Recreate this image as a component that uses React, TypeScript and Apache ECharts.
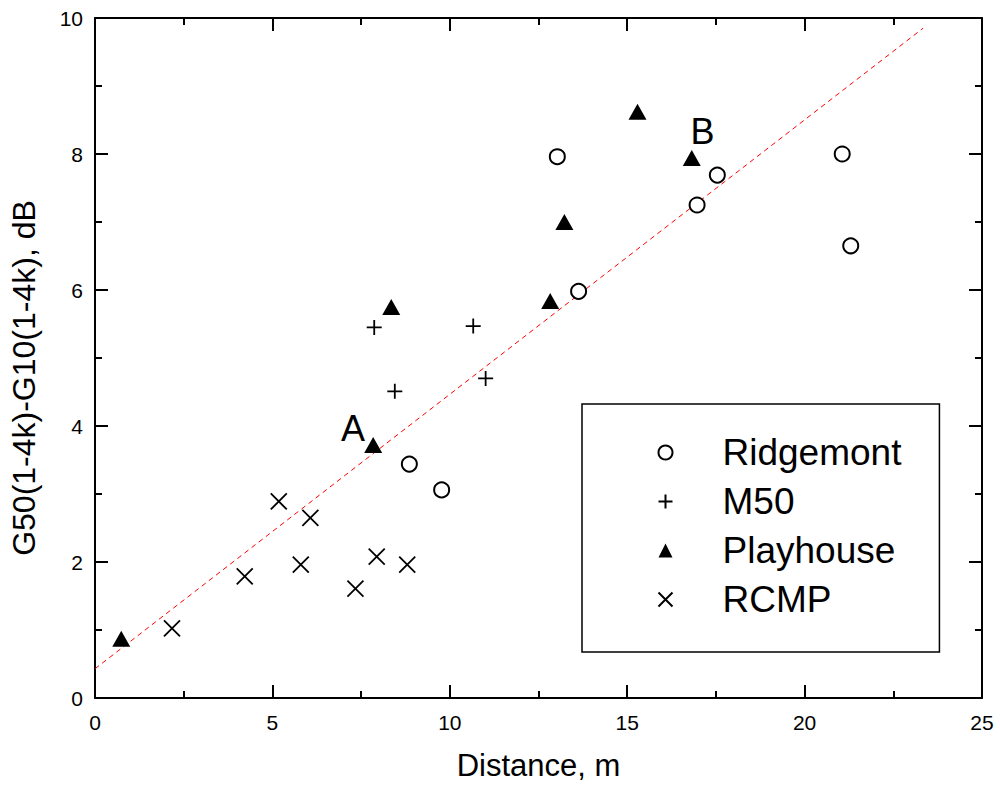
import React, { useEffect, useRef } from "react";
import * as echarts from "echarts";

const ridgemontX = [13.03, 17.54, 16.97, 13.63, 8.86, 9.77, 21.06, 21.3];
const ridgemontY = [7.96, 7.69, 7.25, 5.98, 3.44, 3.06, 8.0, 6.65];
const m50X = [7.87, 10.66, 8.45, 11.01];
const m50Y = [5.45, 5.47, 4.51, 4.7];
const playhouseX = [0.74, 7.84, 8.35, 12.83, 13.23, 15.29, 16.82];
const playhouseY = [0.87, 3.72, 5.75, 5.84, 7.0, 8.62, 7.94];
const rcmpX = [2.17, 4.22, 5.18, 5.8, 6.07, 7.34, 7.94, 8.8];
const rcmpY = [1.025, 1.79, 2.89, 1.96, 2.65, 1.61, 2.08, 1.96];
const fitX = [0, 23.34];
const fitY = [0.43, 9.85];
const noteNames = ["A", "B"];
const noteX = [7.27, 17.12];
const noteY = [3.97, 8.33];

const FONT = "'Liberation Sans', Arial, sans-serif";
const zip = (xs: number[], ys: number[]) => xs.map((x, i) => [x, ys[i]]);

export default function App() {
  const ref = useRef<HTMLDivElement>(null);
  useEffect(() => {
    if (!ref.current) return;
    const chart = echarts.init(ref.current, undefined, { renderer: "svg" });
    const axisCommon = {
      axisLine: { show: true, onZero: false, lineStyle: { color: "#000", width: 2 } },
      axisTick: { show: true, inside: true, length: 13, lineStyle: { color: "#000", width: 2 } },
      minorTick: { show: true, splitNumber: 2, length: 7, lineStyle: { color: "#000", width: 2 } },
      splitLine: { show: false },
    };
    chart.setOption({
      animation: false,
      backgroundColor: "#fff",
      textStyle: { fontFamily: FONT },
      grid: { left: 95, right: 18, top: 18, bottom: 91, containLabel: false },
      legend: {
        orient: "vertical",
        left: 582,
        top: 404,
        padding: [30, 38, 34, 74],
        borderColor: "#000",
        borderWidth: 1.5,
        itemGap: 12,
        itemWidth: 14,
        itemHeight: 14,
        data: ["Ridgemont", "M50", "Playhouse", "RCMP"],
        textStyle: { fontSize: 37, fontFamily: FONT, color: "#000", lineHeight: 37, padding: [0, 0, 0, 45] },
      },
      xAxis: [
        {
          type: "value",
          min: 0,
          max: 25,
          interval: 5,
          position: "bottom",
          name: "Distance, m",
          nameLocation: "middle",
          nameGap: 52,
          nameTextStyle: { fontSize: 31, color: "#000", fontFamily: FONT },
          axisLabel: { fontSize: 21, color: "#000", margin: 14, fontFamily: FONT },
          ...axisCommon,
        },
        {
          type: "value",
          min: 0,
          max: 25,
          interval: 5,
          position: "top",
          axisLabel: { show: false },
          ...axisCommon,
        },
      ],
      yAxis: [
        {
          type: "value",
          min: 0,
          max: 10,
          interval: 2,
          position: "left",
          name: "G50(1-4k)-G10(1-4k), dB",
          nameLocation: "middle",
          nameGap: 55,
          nameRotate: 90,
          nameTextStyle: { fontSize: 32, color: "#000", fontFamily: FONT, padding: [0, 40, 0, 0] },
          axisLabel: { fontSize: 21, color: "#000", margin: 12, fontFamily: FONT },
          ...axisCommon,
        },
        {
          type: "value",
          min: 0,
          max: 10,
          interval: 2,
          position: "right",
          axisLabel: { show: false },
          ...axisCommon,
        },
      ],
      series: [
        {
          name: "fit",
          type: "line",
          data: zip(fitX, fitY),
          showSymbol: false,
          symbol: "none",
          silent: true,
          z: 1,
          lineStyle: { color: "#ff0000", width: 1, type: [5, 4] },
        },
        {
          name: "Ridgemont",
          type: "scatter",
          symbol: "circle",
          symbolSize: 15,
          data: zip(ridgemontX, ridgemontY),
          itemStyle: { color: "#fff", borderColor: "#000", borderWidth: 2, opacity: 1 },
          z: 3,
        },
        {
          name: "M50",
          type: "scatter",
          symbol: "path://M0,5L10,5M5,0L5,10",
          symbolSize: 15,
          data: zip(m50X, m50Y),
          itemStyle: { color: "none", borderColor: "#000", borderWidth: 1.8, opacity: 1 },
          z: 3,
        },
        {
          name: "Playhouse",
          type: "scatter",
          symbol: "triangle",
          symbolSize: [18, 16],
          data: zip(playhouseX, playhouseY),
          itemStyle: { color: "#000", opacity: 1 },
          z: 3,
        },
        {
          name: "RCMP",
          type: "scatter",
          symbol: "path://M0,0L10,10M10,0L0,10",
          symbolSize: 16,
          data: zip(rcmpX, rcmpY),
          itemStyle: { color: "none", borderColor: "#000", borderWidth: 1.8, opacity: 1 },
          z: 3,
        },
        {
          name: "notes",
          type: "scatter",
          symbolSize: 1,
          silent: true,
          itemStyle: { color: "#fff", opacity: 0 },
          data: noteNames.map((n, i) => ({ name: n, value: [noteX[i], noteY[i]] })),
          label: {
            show: true,
            position: "inside",
            formatter: "{b}",
            fontSize: 36,
            color: "#000",
            opacity: 1,
            textBorderWidth: 0,
            textBorderColor: "transparent",
            fontFamily: FONT,
          },
          z: 4,
        },
      ],
    });
    return () => chart.dispose();
  }, []);
  return <div ref={ref} style={{ position: "fixed", left: 0, top: 0, width: 1000, height: 789 }} />;
}
